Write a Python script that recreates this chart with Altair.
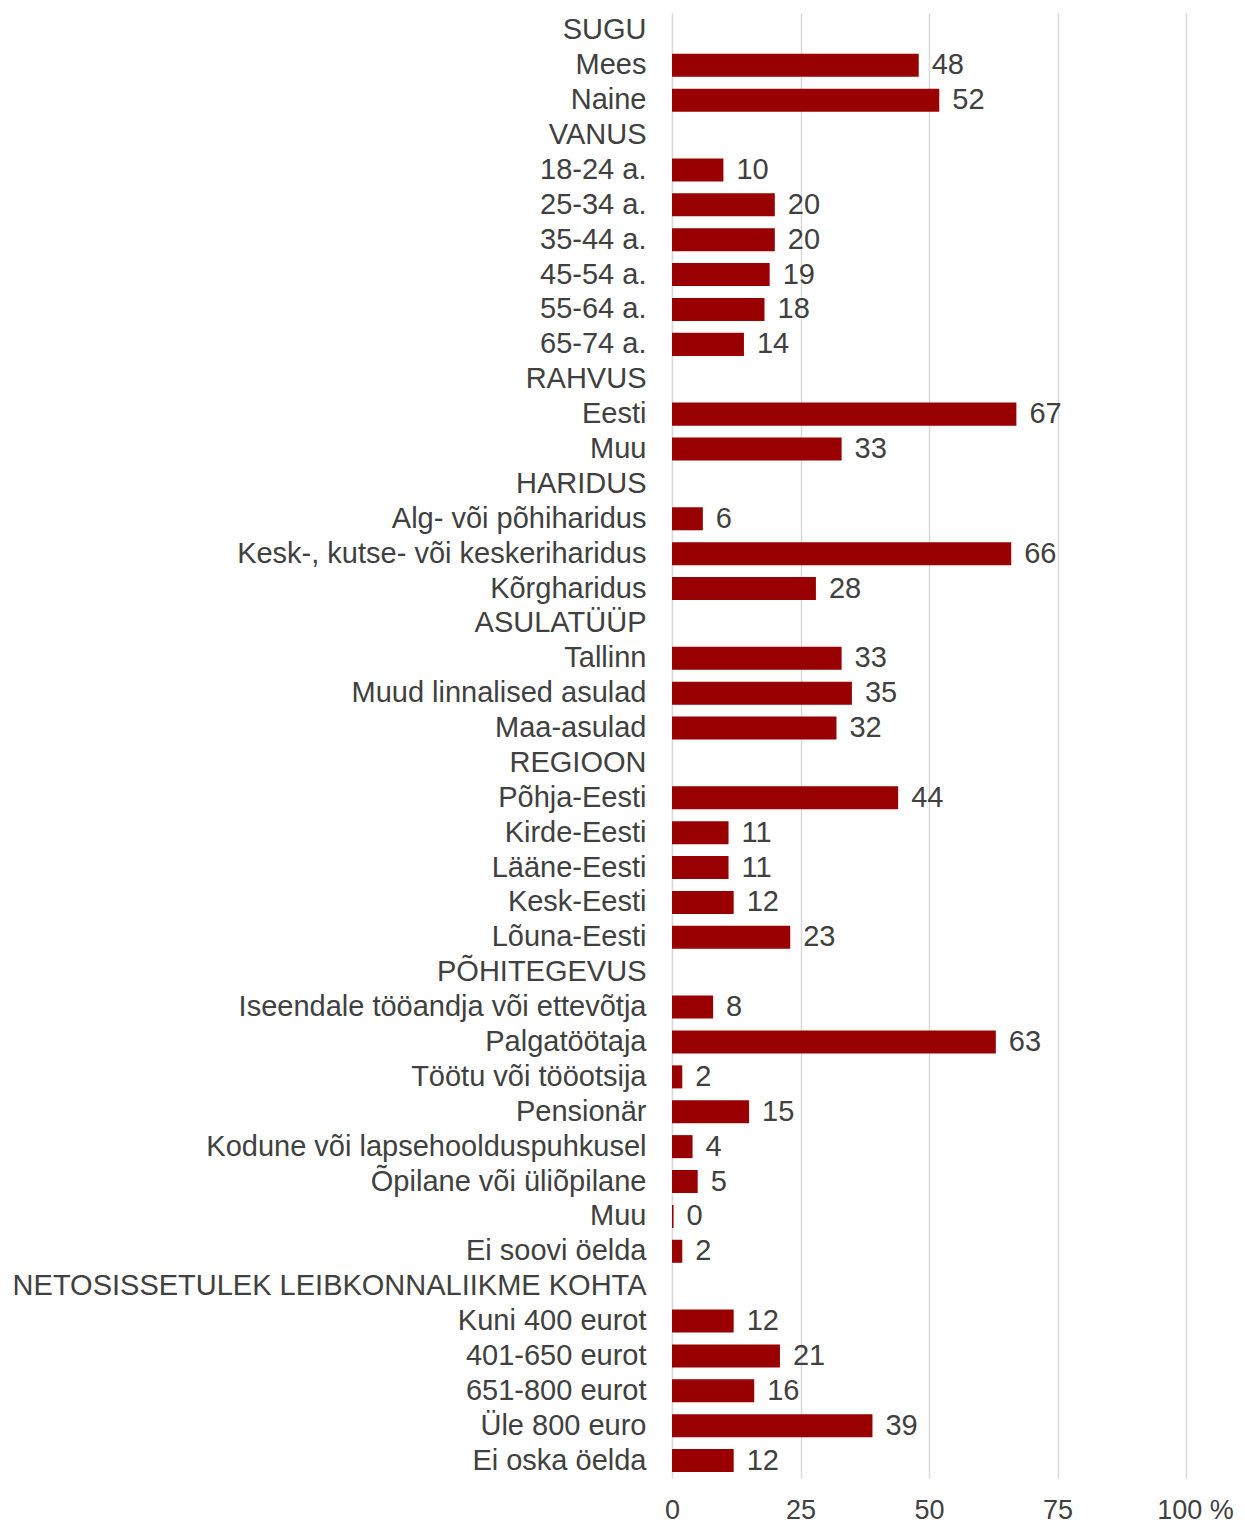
import json
import altair as alt
import pandas as pd

labels = [
    "SUGU", "Mees", "Naine",
    "VANUS", "18-24 a.", "25-34 a.", "35-44 a.", "45-54 a.", "55-64 a.", "65-74 a.",
    "RAHVUS", "Eesti", "Muu",
    "HARIDUS", "Alg- või põhiharidus", "Kesk-, kutse- või keskeriharidus", "Kõrgharidus",
    "ASULATÜÜP", "Tallinn", "Muud linnalised asulad", "Maa-asulad",
    "REGIOON", "Põhja-Eesti", "Kirde-Eesti", "Lääne-Eesti", "Kesk-Eesti", "Lõuna-Eesti",
    "PÕHITEGEVUS", "Iseendale tööandja või ettevõtja", "Palgatöötaja", "Töötu või tööotsija",
    "Pensionär", "Kodune või lapsehoolduspuhkusel", "Õpilane või üliõpilane", "Muu", "Ei soovi öelda",
    "NETOSISSETULEK LEIBKONNALIIKME KOHTA", "Kuni 400 eurot", "401-650 eurot", "651-800 eurot",
    "Üle 800 euro", "Ei oska öelda",
]
values = [
    None, 48, 52,
    None, 10, 20, 20, 19, 18, 14,
    None, 67, 33,
    None, 6, 66, 28,
    None, 33, 35, 32,
    None, 44, 11, 11, 12, 23,
    None, 8, 63, 2, 15, 4, 5, 0.3, 2,
    None, 12, 21, 16, 39, 12,
]
x_ticks = [0, 25, 50, 75, 100]

FONT = "Liberation Sans"
TXT = "#404040"

ids = list(range(len(labels)))
df = pd.DataFrame({"id": ids, "label": labels, "value": values})

label_expr = json.dumps(labels, ensure_ascii=False) + "[datum.value]"

y_enc = alt.Y(
    "id:O",
    title=None,
    scale=alt.Scale(domain=ids, paddingInner=0.34, paddingOuter=0.17),
    axis=alt.Axis(
        labelExpr=label_expr,
        domain=False,
        ticks=False,
        grid=False,
        labelPadding=26,
        labelFontSize=29,
        labelFont=FONT,
        labelColor=TXT,
        labelLimit=1000,
    ),
)

x_enc = alt.X(
    "value:Q",
    title=None,
    scale=alt.Scale(domain=[0, 100], nice=False),
    axis=alt.Axis(
        values=x_ticks,
        grid=True,
        gridColor="#d9d9d9",
        gridWidth=1.5,
        domain=False,
        ticks=False,
        labelPadding=19,
        labelFontSize=27,
        labelFont=FONT,
        labelColor=TXT,
        labelExpr="datum.value == 100 ? '100 %' : datum.label",
        labelOffset={"condition": {"test": "datum.value == 100", "value": 9}, "value": 0},
        labelFlush=False,
    ),
)

base = alt.Chart(df)

bars = base.mark_bar(color="#990000").encode(x=x_enc, y=y_enc)
texts = base.transform_filter("isValid(datum.value)").mark_text(
    align="left", baseline="middle", dx=13, fontSize=29, font=FONT, color=TXT
).encode(
    x=alt.X("value:Q"),
    y=alt.Y("id:O"),
    text=alt.Text("value:Q", format=".0f"),
)

chart = (
    alt.layer(bars, texts)
    .properties(width=514, height=1465, padding={"left": 4, "top": 5, "right": 0, "bottom": 0})
    .configure_view(stroke=None)
)

chart.save("out.html", embed_options={"renderer": "svg", "actions": False})
